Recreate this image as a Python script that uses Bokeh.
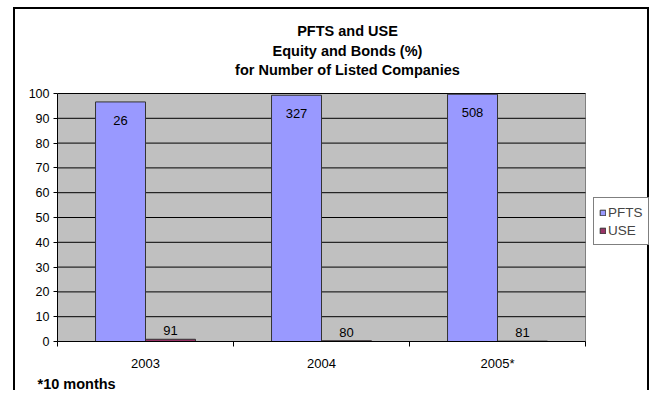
from bokeh.plotting import figure
from bokeh.models import (ColumnDataSource, FixedTicker, LabelSet, Label, Legend, LegendItem, Title)
from bokeh.core.properties import value
from bokeh.embed import file_html
from bokeh.resources import INLINE

categories = ["2003", "2004", "2005*"]
pfts = [96.6, 99.3, 99.7]
use = [0.9, 0.3, 0.15]
pfts_labels = ["26", "327", "508"]
use_labels = ["91", "80", "81"]
title_lines = ["PFTS and USE", "Equity and Bonds (%)", "for Number of Listed Companies"]
footnote = "*10 months"
y_ticks = list(range(0, 101, 10))

FONT = "Liberation Sans"
n = len(categories)
bw = 0.284
centers = [i + 0.5 for i in range(n)]

src = ColumnDataSource(dict(
    xp=[c - bw / 2 for c in centers],
    xu=[c + bw / 2 for c in centers],
    pfts=pfts, use=use,
    pl=pfts_labels, ul=use_labels,
))
grid_src = ColumnDataSource(dict(y=y_ticks, x0=[0] * len(y_ticks), x1=[n] * len(y_ticks)))

# frame spans to the right/top edge of the chart box; plot area is x 0..n, y 0..100
p = figure(width=636, height=383, output_backend="svg", toolbar_location=None,
           x_range=(0, n * 594 / 528), y_range=(0, 100 * 332 / 248),
           min_border_left=42, min_border_right=0, min_border_top=0, min_border_bottom=51)
p.styles = {"border-left": "2px solid #000", "border-top": "2px solid #000",
            "border-right": "2px solid #000", "margin-left": "13px", "margin-top": "7px"}
p.background_fill_color = "white"
p.border_fill_color = "white"
p.outline_line_color = None
p.xgrid.grid_line_color = None
p.ygrid.grid_line_color = None

# plot area background and grid lines
p.quad(left=0, right=n, bottom=0, top=100, fill_color="#C0C0C0", line_color="#808080",
       line_width=1)
p.segment(x0="x0", x1="x1", y0="y", y1="y", source=grid_src, line_color="#000000",
          line_width=1)

r1 = p.vbar(x="xp", top="pfts", width=bw, source=src, fill_color="#9999FF",
            line_color="#333333", line_width=1)
r2 = p.vbar(x="xu", top="use", width=bw, source=src, fill_color="#993366",
            line_color="#333333", line_width=1)

p.add_layout(LabelSet(x="xp", y="pfts", text="pl", source=src, text_align="center",
                      text_baseline="top", y_offset=-14, text_font=value(FONT),
                      text_font_size="13px", text_color="black"))
p.add_layout(LabelSet(x="xu", y="use", text="ul", source=src, text_align="center",
                      text_baseline="bottom", y_offset=4, text_font=value(FONT),
                      text_font_size="13px", text_color="black"))

# axes
p.yaxis.bounds = (0, 100)
p.yaxis.ticker = FixedTicker(ticks=y_ticks)
p.yaxis.major_tick_out = 4
p.yaxis.major_tick_in = 0
p.yaxis.minor_tick_line_color = None
p.yaxis.major_label_standoff = 4
p.yaxis.major_label_text_font = FONT
p.yaxis.major_label_text_font_size = "12.5px"
p.yaxis.major_label_text_color = "black"
p.yaxis.axis_line_color = "black"

p.xaxis.bounds = (0, n)
p.xaxis.ticker = FixedTicker(ticks=centers, minor_ticks=list(range(n + 1)))
p.xaxis.major_label_overrides = {c: lab for c, lab in zip(centers, categories)}
p.xaxis.major_tick_out = 0
p.xaxis.major_tick_in = 0
p.xaxis.minor_tick_out = 5
p.xaxis.minor_tick_in = 0
p.xaxis.minor_tick_line_color = "black"
p.xaxis.major_label_standoff = 9
p.xaxis.major_label_text_font = FONT
p.xaxis.major_label_text_font_size = "13px"
p.xaxis.major_label_text_color = "black"
p.xaxis.axis_line_color = "black"

# title lines (screen px relative to the frame's bottom-left corner)
for t, y in zip(title_lines, [310.5, 290.5, 272]):
    p.add_layout(Label(x=290, y=y, x_units="screen", y_units="screen", text=t,
                       text_align="center", text_baseline="middle", text_font=FONT,
                       text_font_size="14.5px", text_font_style="bold", text_color="black"))

p.add_layout(Title(text=footnote, align="left", offset=-20, standoff=0, text_font=FONT,
                   text_font_size="14.5px", text_font_style="bold",
                   text_color="black"), "below")

legend = Legend(items=[LegendItem(label="PFTS", renderers=[r1]),
                       LegendItem(label="USE", renderers=[r2])],
                location=(536, 96), orientation="vertical",
                glyph_width=7, glyph_height=7, label_standoff=2, spacing=0,
                padding=5, margin=0, border_line_color="black", border_line_width=1,
                background_fill_color="white", background_fill_alpha=1,
                label_text_font=FONT, label_text_font_size="13.5px",
                label_height=18)
p.add_layout(legend, "center")

open("out.html", "w").write(file_html(p, INLINE))
